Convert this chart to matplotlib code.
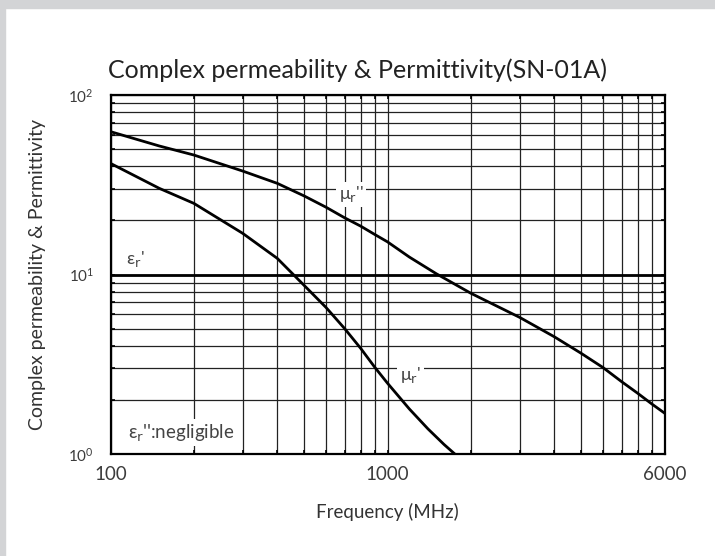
import matplotlib
matplotlib.use("Agg")
import matplotlib.pyplot as plt
from matplotlib.patches import Rectangle

# values (frequency in MHz)
freq_mu2 = [100, 150, 200, 300, 400, 500, 600, 700, 800, 900, 1000, 1200,
            1500, 2000, 3000, 4000, 5000, 6000, 7000, 8000, 9000, 10000]
mu2 = [62.5, 52.0, 46.3, 37.7, 32.2, 27.4, 23.7, 20.7, 18.6, 16.7, 15.2, 12.5,
       10.1, 7.86, 5.77, 4.5, 3.64, 3.03, 2.53, 2.18, 1.90, 1.69]

freq_mu1 = [100, 150, 200, 300, 400, 500, 600, 700, 800, 900, 1000, 1200,
            1400, 1600, 1750]
mu1 = [41.6, 30.2, 24.9, 16.96, 12.3, 8.7, 6.55, 5.0, 3.88, 3.04, 2.48, 1.78,
       1.38, 1.13, 1.0]

freq_eps = [100, 10000]
eps1 = [10, 10]

xtick_vals = [100, 1000, 10000]
xtick_labels = ["100", "1000", "6000"]

plt.rcParams['font.family'] = ['Lato', 'DejaVu Sans']

fig = plt.figure(figsize=(7.15, 5.56), dpi=100)
W, H = 715, 556
# grey frame on top and left
fig.patches.append(Rectangle((0, 1 - 8 / H), 1, 8 / H, transform=fig.transFigure,
                             color='#d3d4d6', zorder=0))
fig.patches.append(Rectangle((0, 0), 5 / W, 1, transform=fig.transFigure,
                             color='#d3d4d6', zorder=0))

ax = fig.add_axes([110.5 / W, 1 - 454 / H, 554 / W, 359 / H])
ax.set_xscale('log')
ax.set_yscale('log')
ax.set_xlim(100, 10000)
ax.set_ylim(1, 100)

ax.grid(True, which='both', color='#222222', linewidth=0.9)
ax.set_axisbelow(True)

ax.plot(freq_eps, eps1, color='black', linewidth=2.0, zorder=3)
ax.plot(freq_mu2, mu2, color='black', linewidth=2.0, zorder=3)
ax.plot(freq_mu1, mu1, color='black', linewidth=2.0, zorder=3)

ax.set_xticks(xtick_vals)
ax.set_xticklabels(xtick_labels)
ax.tick_params(which='both', direction='in', top=True, right=True,
               length=3, width=1.2, color='black')
ax.tick_params(axis='x', which='major', labelsize=13.5, labelcolor='#3c3c3c', pad=9)
ax.tick_params(axis='y', which='major', labelsize=11, labelcolor='#3c3c3c', pad=12)
for s in ax.spines.values():
    s.set_linewidth(1.6)

ax.set_xlabel("Frequency (MHz)", fontsize=13.5, color='#333333', labelpad=14)
ax.set_ylabel("Complex permeability & Permittivity", fontsize=14, color='#333333',
              labelpad=16)

box = dict(boxstyle='square,pad=0.15', facecolor='white', edgecolor='none')
ax.text(740, 28, "μ$_\\mathrm{r}$''", fontsize=13, color='#444444', ha='center',
        va='center', bbox=box, zorder=4)
ax.text(1210, 2.75, "μ$_\\mathrm{r}$'", fontsize=13, color='#444444', ha='center',
        va='center', bbox=box, zorder=4)
ax.text(123, 12.2, "ε$_\\mathrm{r}$'", fontsize=13, color='#444444', ha='center',
        va='center', bbox=box, zorder=4)
ax.text(116, 1.31, "ε$_\\mathrm{r}$'':negligible", fontsize=13.5, color='#444444',
        ha='left', va='center', bbox=box, zorder=4)

fig.text(0.5, 1 - 78 / H, "Complex permeability & Permittivity(SN-01A)",
         fontsize=18, color='#222222', ha='center', va='baseline')

fig.savefig("out.png", dpi=100, facecolor='white')
